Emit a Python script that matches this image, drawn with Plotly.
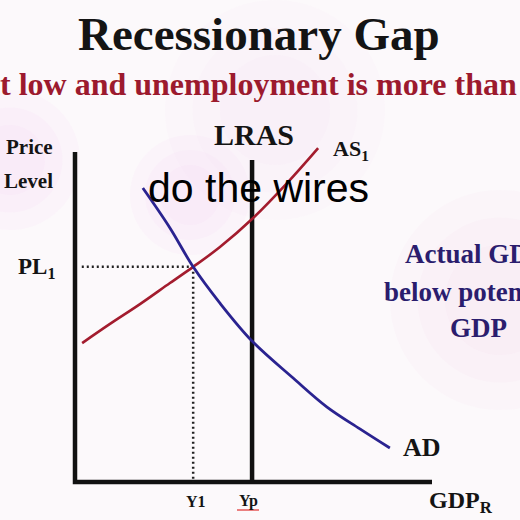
import plotly.graph_objects as go

# ---- data (economic units: GDP on x, price level on y, axes run 0..10) ----
axis_x = [0, 0, 10]
axis_y = [10, 0, 0]

as_gdp = [0.20, 0.98, 1.82, 2.66, 3.31, 4.06, 4.96, 5.94, 6.81]
as_price = [4.21, 4.79, 5.39, 6.03, 6.52, 7.12, 7.97, 9.06, 10.12]

ad_gdp = [1.90, 2.66, 3.31, 4.06, 4.96, 6.11, 7.06, 7.98, 8.82]
ad_price = [8.91, 7.70, 6.52, 5.42, 4.27, 3.15, 2.27, 1.61, 1.03]

lras_gdp = 4.96
lras_top = 9.76
y1_gdp = 3.31
pl1_price = 6.52
dot_start = 0.19

W = H = 520
# pixel geometry of the picture frame
X0_PX, XS = 75.0, 35.7   # origin px, px per GDP unit
Y0_PX, YS = 482.0, 33.0  # origin px, px per price unit


def px(x):
    return x / W


def py(y):
    return 1 - y / H


fig = go.Figure()

# axes
fig.add_trace(go.Scatter(x=axis_x, y=axis_y, mode="lines",
                         line=dict(color="#111111", width=4.5), hoverinfo="skip"))
# LRAS
fig.add_trace(go.Scatter(x=[lras_gdp, lras_gdp], y=[0, lras_top], mode="lines",
                         line=dict(color="#111111", width=4.5), hoverinfo="skip"))
# dotted guides
fig.add_trace(go.Scatter(x=[dot_start, y1_gdp], y=[pl1_price, pl1_price], mode="lines",
                         line=dict(color="#222222", width=2.5, dash="2px,3px"), hoverinfo="skip"))
fig.add_trace(go.Scatter(x=[y1_gdp, y1_gdp], y=[pl1_price, 0], mode="lines",
                         line=dict(color="#222222", width=2.5, dash="2px,3px"), hoverinfo="skip"))
# AS1
fig.add_trace(go.Scatter(x=as_gdp, y=as_price, mode="lines", line_shape="spline",
                         line=dict(color="#a31c2e", width=2.6), hoverinfo="skip"))
# AD
fig.add_trace(go.Scatter(x=ad_gdp, y=ad_price, mode="lines", line_shape="spline",
                         line=dict(color="#2a2390", width=2.8), hoverinfo="skip"))

serif = "Liberation Serif"
ann = []


def label(text, x, y, size, color="#141414", xanchor="center", family=serif):
    ann.append(dict(text=text, x=px(x), y=py(y), xref="paper", yref="paper",
                    xanchor=xanchor, yanchor="middle", showarrow=False,
                    font=dict(family=family, size=size, color=color)))


label("<b>Recessionary Gap</b>", 259, 34, 47)
label("<b>at low and unemployment is more than</b>", 519, 84, 32, color="#9c1a2e", xanchor="right")
label("<b>Price</b>", 55, 147, 21, xanchor="right")
label("<b>Level</b>", 55, 181, 21, xanchor="right")
label("<b>PL<sub>1</sub></b>", 16, 268, 23, xanchor="left")
label("<b>LRAS</b>", 254, 134, 30)
label("<b>AS<sub>1</sub></b>", 331, 150, 22, xanchor="left")
label("<b>Actual GDP</b>", 403, 254, 27, color="#2b1d6e", xanchor="left")
label("<b>below potential</b>", 382, 292, 27, color="#2b1d6e", xanchor="left")
label("<b>GDP</b>", 448, 328, 27, color="#2b1d6e", xanchor="left")
label("<b>AD</b>", 401, 447, 26, xanchor="left")
label("<b>Y1</b>", 196, 501, 16)
label("<b>Yp</b>", 248, 501, 16)
label("<b>GDP<sub>R</sub></b>", 427, 502, 24, xanchor="left")
label("do the wires", 258, 188, 41, color="#000000", family="Liberation Sans")

shapes = []
# soft pink haze in the background (stacked faint circles give a soft falloff)
blobs = [(10, 160, 70, "240,185,235"), (190, 195, 60, "240,185,235"),
         (500, 300, 110, "245,195,225"), (275, 110, 110, "245,210,235")]
for cx, cy, r, rgb in blobs:
    for k in (1.0, 0.75, 0.5):
        rr = r * k
        shapes.append(dict(type="circle", xref="paper", yref="paper", layer="below",
                           x0=px(cx - rr), x1=px(cx + rr), y0=py(cy + rr), y1=py(cy - rr),
                           fillcolor=f"rgba({rgb},0.07)", line_width=0))
# spell-check squiggle under Yp
shapes.append(dict(type="line", xref="paper", yref="paper", x0=px(237), x1=px(259),
                   y0=py(510), y1=py(510), line=dict(color="#e03030", width=1.2)))

fig.update_layout(
    width=W, height=H,
    margin=dict(l=0, r=0, t=0, b=0),
    paper_bgcolor="#fcf9fb", plot_bgcolor="rgba(0,0,0,0)",
    showlegend=False,
    xaxis=dict(range=[-X0_PX / XS, (W - X0_PX) / XS], visible=False, fixedrange=True),
    yaxis=dict(range=[-(H - Y0_PX) / YS, Y0_PX / YS], visible=False, fixedrange=True),
    annotations=ann, shapes=shapes,
)

fig.write_html("out.html", config={"displayModeBar": False},
               post_script="document.body.style.margin='0';")
